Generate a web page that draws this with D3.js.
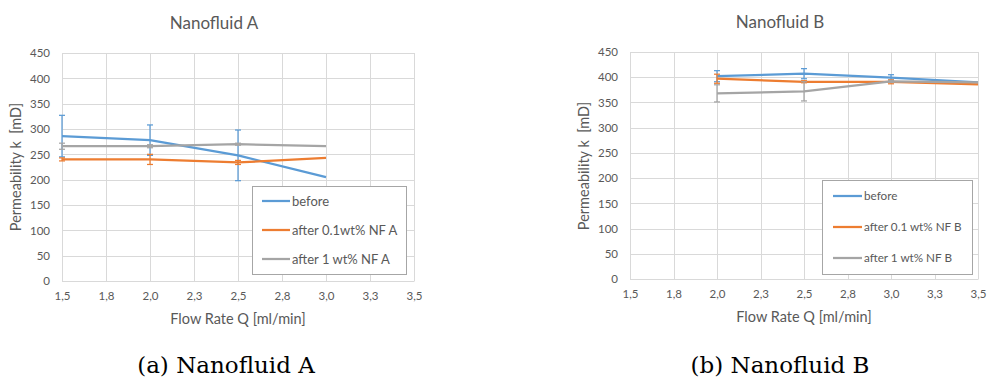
<!DOCTYPE html>
<html><head><meta charset="utf-8">
<script src="https://cdn.jsdelivr.net/npm/d3@7"></script>
<style>
body{margin:0;background:#fff;}
svg{display:block;}
text{font-family:Lato,"Open Sans",sans-serif;}
</style></head>
<body>
<svg id="chart" width="989" height="385"></svg>
<script>
// ---- data ----
const xTicks = [1.5, 1.75, 2.0, 2.25, 2.5, 2.75, 3.0, 3.25, 3.5];
const xTickLabels = ["1,5","1,8","2,0","2,3","2,5","2,8","3,0","3,3","3,5"];
const yTicks = [0,50,100,150,200,250,300,350,400,450];

const seriesNames = ["before", "after 0.1wt% NF A", "after 1 wt% NF A"];
const seriesNamesB = ["before", "after 0.1 wt% NF B", "after 1 wt% NF B"];
const colors = ["#5B9BD5", "#ED7D31", "#A5A5A5"];

const flowA = [1.5, 2.0, 2.5, 3.0];
const beforeA = [286, 278, 248, 205];
const beforeErrA = [41, 30, 50, 0];
const nf01A = [240, 240, 234, 243];
const nf01ErrA = [3, 10, 4, 0];
const nf1A = [266, 266, 270, 266];
const nf1ErrA = [6, 3, 2, 0];

const flowB = [2.0, 2.5, 3.0, 3.5];
const beforeB = [402, 407, 399, 390];
const beforeErrB = [11, 10, 6, 0];
const nf01B = [397, 391, 391, 386];
const nf01ErrB = [9, 2, 4, 0];
const nf1B = [368, 372, 392, 390];
const nf1ErrB = [17, 19, 2, 0];

const svg = d3.select("#chart");

function drawChart(cfg) {
  const g = svg.append("g");
  const x = d3.scaleLinear().domain([1.5, 3.5]).range([cfg.left, cfg.right]);
  const y = d3.scaleLinear().domain([0, 450]).range([cfg.bottom, cfg.top]);
  const grid = "#d9d9d9";

  // gridlines
  g.append("g").selectAll("line").data(yTicks).join("line")
    .attr("x1", cfg.left).attr("x2", cfg.right)
    .attr("y1", d => Math.round(y(d)) + 0.5).attr("y2", d => Math.round(y(d)) + 0.5)
    .attr("stroke", grid).attr("stroke-width", 1);
  g.append("g").selectAll("line").data(xTicks).join("line")
    .attr("x1", d => Math.round(x(d)) + 0.5).attr("x2", d => Math.round(x(d)) + 0.5)
    .attr("y1", cfg.top).attr("y2", cfg.bottom)
    .attr("stroke", grid).attr("stroke-width", 1);

  // axes via d3 axis (labels only)
  const xAxis = d3.axisBottom(x).tickValues(xTicks)
    .tickFormat((d, i) => xTickLabels[i]).tickSize(0).tickPadding(11);
  const xg = g.append("g").attr("transform", `translate(0,${cfg.bottom})`).call(xAxis);
  xg.select(".domain").attr("stroke", grid);
  xg.selectAll("text").attr("fill", "#595959").style("font-size", "11.5px").style("font-family", "Lato, sans-serif");

  const yAxis = d3.axisLeft(y).tickValues(yTicks).tickSize(0).tickPadding(cfg.ytPad);
  const yg = g.append("g").attr("transform", `translate(${cfg.left},0)`).call(yAxis);
  yg.select(".domain").remove();
  yg.selectAll("text").attr("fill", "#595959").style("font-size", "11.5px").style("font-family", "Lato, sans-serif");

  // title
  g.append("text").attr("x", cfg.titleX).attr("y", cfg.titleY)
    .attr("text-anchor", "middle").attr("fill", "#595959").style("font-size", "17px")
    .text(cfg.title);
  // axis titles
  g.append("text").attr("x", cfg.xtX).attr("y", cfg.xtY)
    .attr("text-anchor", "middle").attr("fill", "#595959").style("font-size", "14.5px")
    .text("Flow Rate Q [ml/min]");
  g.append("text").attr("transform", `translate(${cfg.ytX},${cfg.ytY}) rotate(-90)`)
    .attr("text-anchor", "middle").attr("fill", "#595959").style("font-size", "14.5px")
    .style("white-space", "pre").attr("xml:space", "preserve")
    .text("Permeability k  [mD]");

  // series
  const line = d3.line().x(d => x(d[0])).y(d => y(d[1]));
  cfg.series.forEach((s, si) => {
    const pts = cfg.flow.map((f, i) => [f, s.values[i], s.err[i]]);
    const eg = g.append("g");
    pts.filter(p => p[2] > 0).forEach(p => {
      const cx = x(p[0]);
      eg.append("line").attr("x1", cx).attr("x2", cx)
        .attr("y1", y(p[1] - p[2])).attr("y2", y(p[1] + p[2]))
        .attr("stroke", colors[si]).attr("stroke-width", 1.25);
      [p[1] - p[2], p[1] + p[2]].forEach(v => {
        eg.append("line").attr("x1", cx - 3).attr("x2", cx + 3)
          .attr("y1", y(v)).attr("y2", y(v))
          .attr("stroke", colors[si]).attr("stroke-width", 1.25);
      });
    });
    g.append("path").datum(pts).attr("d", line)
      .attr("fill", "none").attr("stroke", colors[si]).attr("stroke-width", 2.25)
      .attr("stroke-linejoin", "round");
  });

  // legend
  const L = cfg.legend;
  g.append("rect").attr("x", L.x + 0.5).attr("y", L.y + 0.5).attr("width", L.w).attr("height", L.h)
    .attr("fill", "#fff").attr("stroke", "#a6a6a6").attr("stroke-width", 1);
  cfg.names.forEach((n, i) => {
    const ry = L.rows[i];
    g.append("line").attr("x1", L.lx1).attr("x2", L.lx2).attr("y1", ry).attr("y2", ry)
      .attr("stroke", colors[i]).attr("stroke-width", 2.25);
    g.append("text").attr("x", L.tx).attr("y", ry).attr("dy", "0.35em")
      .attr("fill", "#595959").style("font-size", L.fs).text(n);
  });
}

drawChart({
  left: 62, right: 414, top: 53, bottom: 281, ytPad: 12,
  title: "Nanofluid A", titleX: 214, titleY: 29,
  xtX: 238, xtY: 324, ytX: 21, ytY: 167,
  flow: flowA, names: seriesNames,
  series: [
    {values: beforeA, err: beforeErrA},
    {values: nf01A, err: nf01ErrA},
    {values: nf1A, err: nf1ErrA}
  ],
  legend: {x: 252, y: 186, w: 154, h: 88, lx1: 262, lx2: 290, tx: 292, rows: [201, 230, 259], fs: "13px"}
});

drawChart({
  left: 630, right: 978, top: 52, bottom: 279, ytPad: 12,
  title: "Nanofluid B", titleX: 780, titleY: 28,
  xtX: 804, xtY: 322, ytX: 589, ytY: 166,
  flow: flowB, names: seriesNamesB,
  series: [
    {values: beforeB, err: beforeErrB},
    {values: nf01B, err: nf01ErrB},
    {values: nf1B, err: nf1ErrB}
  ],
  legend: {x: 822, y: 180, w: 150, h: 94, lx1: 833, lx2: 862, tx: 864, rows: [196, 227, 258], fs: "11.7px"}
});

// captions
svg.append("text").attr("x", 226).attr("y", 373).attr("text-anchor", "middle")
  .style("font-family", "'DejaVu Serif', serif").style("font-size", "23px").attr("fill", "#000")
  .text("(a) Nanofluid A");
svg.append("text").attr("x", 780).attr("y", 373).attr("text-anchor", "middle")
  .style("font-family", "'DejaVu Serif', serif").style("font-size", "23px").attr("fill", "#000")
  .text("(b) Nanofluid B");
</script>
</body></html>
